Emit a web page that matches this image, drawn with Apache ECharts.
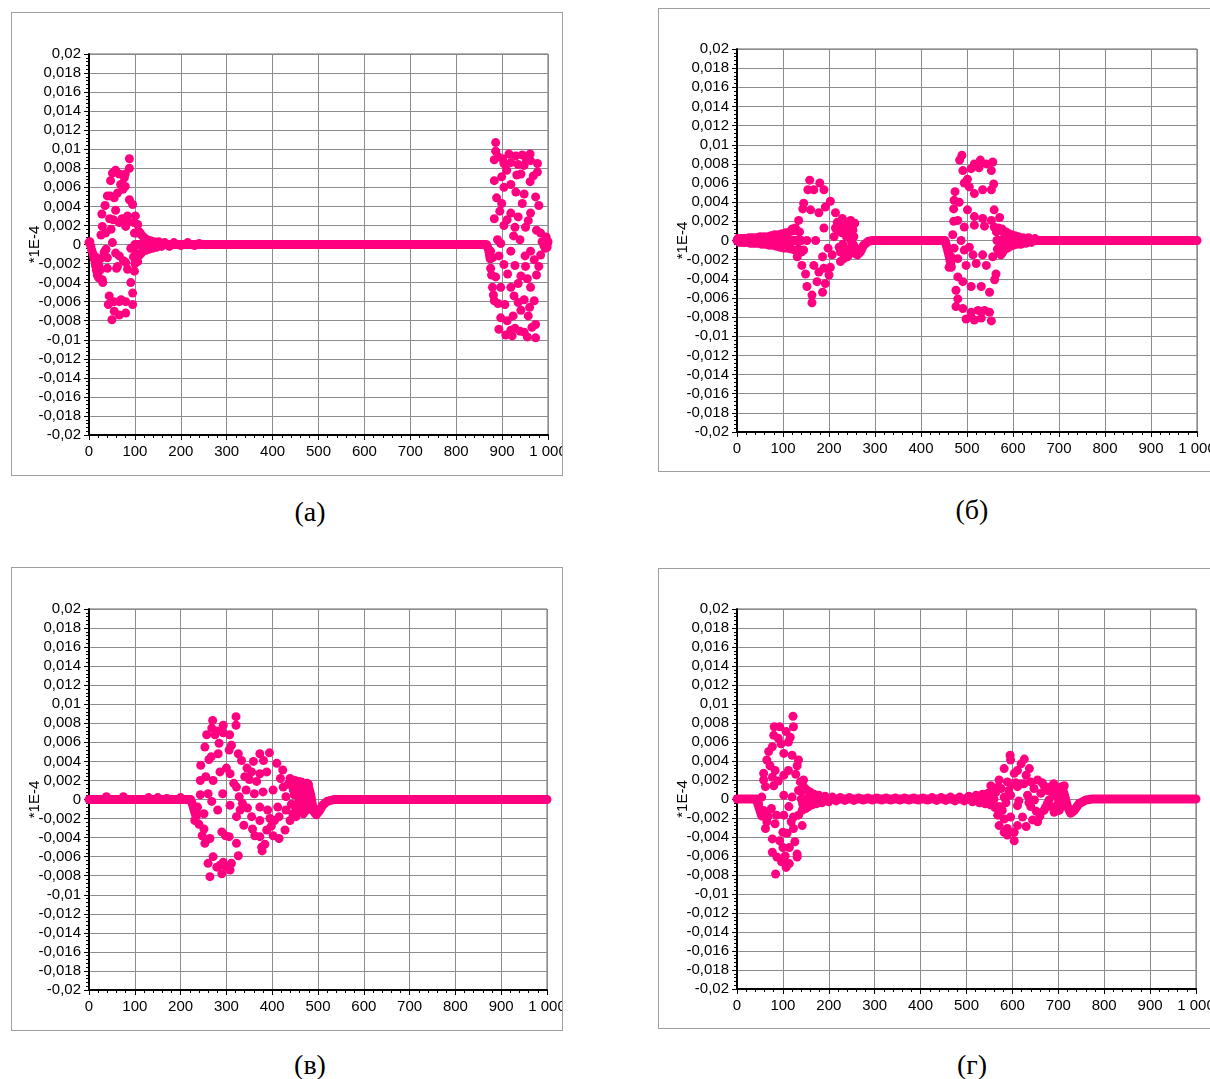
<!DOCTYPE html>
<html>
<head>
<meta charset="utf-8">
<script src="https://cdn.jsdelivr.net/npm/echarts@6/dist/echarts.min.js"></script>
<style>
  html, body { margin: 0; padding: 0; background: #fff; overflow: hidden; }
  .box { position: absolute; box-sizing: border-box; border: 1px solid #a0a0a0; background: #fff; }
  .cap { position: absolute; width: 200px; text-align: center; font-family: "Liberation Serif", serif; font-size: 28px; line-height: 32px; color: #000; }
</style>
</head>
<body>
<div id="chartA" class="box" style="left:11px;top:12px;width:552px;height:464px"></div>
<div id="chartB" class="box" style="left:658px;top:8px;width:553px;height:464px"></div>
<div id="chartC" class="box" style="left:11px;top:567px;width:552px;height:464px"></div>
<div id="chartD" class="box" style="left:658px;top:568px;width:553px;height:461px"></div>
<div class="cap" style="left:210px;top:496px">(а)</div>
<div class="cap" style="left:872px;top:494px">(б)</div>
<div class="cap" style="left:210px;top:1049px">(в)</div>
<div class="cap" style="left:872px;top:1049px">(г)</div>
<script>
var pink = '#ff0080'
var X_MIN = 0, X_MAX = 1000, X_STEP = 100
var Y_MIN = -0.02, Y_MAX = 0.02, Y_STEP = 0.002
var xTickLabels = ['0','100','200','300','400','500','600','700','800','900','1 000']
var yTickLabels = ['-0,02','-0,018','-0,016','-0,014','-0,012','-0,01','-0,008','-0,006','-0,004','-0,002','0',
                   '0,002','0,004','0,006','0,008','0,01','0,012','0,014','0,016','0,018','0,02']
var yName = '*1E-4'

// (а) flat band pieces and scattered points
var baseA = [
  [[100,0],[866,0],[871,-0.0006],[874,-0.0015]]
]
var ptsA = [
  [2,0.0003],[4,-0.0002],[6,-0.0006],[9,-0.001],[12,-0.0016],[14,-0.0022],[16,-0.0027],[18,-0.0032],
  [20,-0.0029],[22,-0.0023],[18,-0.0014],[25,-0.0015],[29,-0.0037],[30,-0.004],[26,0.001],[29,0.0019],
  [28,0.0032],[35,0.0041],[36,0.0012],[40,0.0051],[40,-0.0014],[40,-0.0025],[42,-0.0063],[44,-0.0054],
  [45,0.0027],[47,0.0067],[50,-0.0079],[51,0.0075],[51,0.0002],[55,0.0049],[55,-0.006],[55,-0.007],
  [58,0.0078],[58,0.0036],[58,-0.0009],[62,-0.0023],[66,0.0074],[66,0.0023],[66,-0.0012],[66,-0.006],
  [66,-0.0074],[69,0.0063],[74,0.0058],[79,0.0074],[79,0.0061],[80,0.0019],[80,-0.0019],[80,-0.006],
  [80,-0.0072],[84,0.003],[84,-0.0026],[88,0.009],[88,0.008],[88,0.0047],[91,-0.0004],[91,-0.004],
  [95,0.0042],[95,-0.0051],[95,-0.0063],[99,0.0012],[99,-0.0028],[101,0.003],[102,-0.0009],[106,0.0021],
  [33,-0.0008],[48,0.0016],[60,-0.0025],[72,0.0027],[75,-0.0017],[70,-0.0058],[62,0.0054],
  [0,0.0002],[10,-0.0013],[15,-0.0019],[21,-0.0035],[24,-0.0027],[37,-0.0005],[46,0.0051],[53,0.0026],
  [77,0.007],[85,0.0024],[98,0.0023],[97,-0.0013],[100,-0.002],
  [103,0.0012],[104,-0.0013],[106,-0.0018],[108,0.0014],[110,-0.0011],[112,0.0012],[114,-0.0009],
  [116,0.0009],[118,-0.0007],[121,0.0007],[124,-0.0006],[127,0.0005],[130,-0.0005],[134,0.0004],
  [138,-0.0004],[142,0.0003],[147,-0.0003],[152,0.0003],[158,-0.0002],[165,0.0002],[175,-0.0002],
  [185,0.0002],[200,-0.0001],[215,0.0002],[230,-0.0001],[240,0.0001],
  [886,0.0107],[886,0.0098],[883,0.0089],[901,0.009],[915,0.0095],[930,0.0093],[944,0.0094],[961,0.0095],
  [904,0.0085],[919,0.0086],[935,0.0084],[948,0.0083],[977,0.0085],[977,0.0076],[962,0.0088],[941,0.0074],
  [932,0.0073],[883,0.0067],[899,0.0071],[904,0.006],[919,0.0063],[961,0.0066],[930,0.0055],[948,0.0053],
  [888,0.0049],[899,0.0043],[944,0.0043],[973,0.005],[980,0.0041],[962,0.0033],[919,0.0033],[911,0.0026],
  [883,0.0027],[904,0.002],[928,0.0018],[951,0.0018],[975,0.0015],[984,0.0012],[939,0.0005],[890,0.0005],
  [897,0.0001],[987,0.0003],[991,-0.0001],[919,-0.0007],[962,-0.0007],[875,-0.0007],[879,-0.0014],
  [984,-0.0011],[904,-0.0021],[928,-0.0022],[951,-0.0023],[980,-0.0023],[875,-0.0025],[886,-0.0034],
  [941,-0.0033],[879,-0.0045],[897,-0.0045],[919,-0.0045],[962,-0.0045],[883,-0.0059],[891,-0.0062],
  [926,-0.0054],[948,-0.0058],[970,-0.0059],[897,-0.0077],[911,-0.008],[941,-0.0069],[924,-0.0075],
  [957,-0.0075],[973,-0.0084],[893,-0.0089],[908,-0.0095],[922,-0.0096],[939,-0.0091],[955,-0.0097],
  [973,-0.0098],[919,-0.009],[877,-0.0032],[881,-0.0053],[995,0.0005],[998,-0.0003],[993,0.0002],[1000,0.0003],
  [996,0.0008],[999,0.0001],[994,-0.0004],
  [892,0.0092],[910,0.0078],[953,0.0089],[968,0.0072],[895,0.0035],[935,0.0029],[957,0.0025],[925,0.0009],
  [950,-0.0012],[970,-0.0016],[893,-0.0012],[912,-0.0031],[935,-0.0041],[955,-0.0036],[975,-0.0032],
  [906,-0.0063],[935,-0.0061],[960,-0.0066],[928,-0.0088],[948,-0.0092],[965,-0.0087]
]

// (б)
var baseB = [
  [[0,0],[140,0]],
  [[248,0],[252,-0.0004],[256,-0.0009],[262,-0.0015],[268,-0.0012],[275,-0.0005],[285,-0.0001],[295,0],
   [452,0],[457,-0.0008],[462,-0.0018],[466,-0.0028]],
  [[565,0],[1000,0]]
]
var ptsB = [
  [2,0.0002],[5,-0.0002],[8,0.0002],[11,-0.0002],[14,0.0002],[17,-0.0002],[20,0.0002],[23,-0.0002],
  [26,0.0003],[29,-0.0003],[32,0.0003],[35,-0.0003],[38,0.0003],[41,-0.0003],[44,0.0003],[47,-0.0003],
  [50,0.0004],[54,-0.0004],[58,0.0004],[62,-0.0004],
  [66,0.0004],[70,-0.0005],[74,0.0005],[78,-0.0005],[82,0.0006],[86,-0.0006],[90,0.0006],[94,-0.0007],
  [98,0.0007],[102,-0.0008],[106,0.0008],[110,-0.0008],[114,0.0009],[118,-0.0009],[122,0.001],[126,-0.001],
  [130,0.001],[134,-0.0009],
  [158,0.0063],[180,0.006],[154,0.0053],[167,0.0053],[189,0.0053],[145,0.0039],[203,0.0041],[143,0.0033],
  [160,0.0032],[178,0.0029],[192,0.0035],[214,0.0029],[134,0.0021],[229,0.0023],[247,0.0021],[127,0.0013],
  [189,0.0013],[214,0.0013],[236,0.0015],[247,0.0011],[105,0.0006],[171,0],[152,0],[211,0.0004],[240,0.0004],
  [145,-0.001],[131,-0.0017],[186,-0.0017],[207,-0.0015],[225,-0.0012],[243,-0.0015],[258,-0.0014],
  [141,-0.0026],[167,-0.0026],[189,-0.0029],[203,-0.0028],[225,-0.0022],[149,-0.0035],[178,-0.0033],
  [200,-0.0036],[174,-0.0043],[192,-0.0045],[152,-0.0048],[186,-0.0054],[163,-0.0057],[163,-0.0065],
  [222,-0.0007],[250,-0.0003],[238,0.0017],[242,-0.0012],[246,0.0015],[252,0.0011],[255,-0.0006],
  [232,-0.0019],[218,0.0019],[198,-0.0008],[136,0.0009],[120,0.0012],[140,-0.0012],
  [228,0.0008],[230,-0.0004],[233,0.0012],[235,-0.0009],[238,0.0004],[240,-0.0017],[244,0.0008],
  [246,-0.0008],[249,0.0016],[251,-0.0011],[254,0.0004],[256,0.0018],[220,0.001],[226,0.0016],
  [489,0.0089],[484,0.0084],[516,0.008],[529,0.0084],[542,0.008],[556,0.0082],[491,0.0073],[509,0.0075],
  [526,0.0076],[553,0.0073],[501,0.0064],[505,0.0056],[494,0.006],[474,0.0051],[516,0.0049],[534,0.0053],
  [553,0.0053],[558,0.0059],[472,0.0042],[483,0.004],[471,0.0033],[501,0.0032],[559,0.0032],[516,0.0025],
  [534,0.0023],[553,0.0021],[571,0.0024],[471,0.002],[480,0.0021],[494,0.0014],[516,0.0016],[538,0.0015],
  [559,0.0014],[469,0.0006],[487,0],[494,-0.001],[505,-0.0007],[472,-0.0008],[465,-0.0017],[513,-0.0015],
  [534,-0.0015],[556,-0.0017],[574,-0.0015],[480,-0.0019],[461,-0.0028],[498,-0.0026],[520,-0.0024],
  [542,-0.0026],[563,-0.0035],[560,-0.0041],[480,-0.0038],[491,-0.0043],[509,-0.0048],[531,-0.0048],
  [549,-0.0054],[476,-0.0052],[480,-0.0061],[476,-0.0069],[491,-0.0071],[509,-0.0075],[524,-0.0073],
  [538,-0.0073],[549,-0.0075],[498,-0.0082],[516,-0.0083],[553,-0.0084],[509,-0.008],[531,-0.0081],
  [564,0.0009],[566,-0.0009],[568,0.0013],[570,-0.0012],[572,0.0011],[574,-0.0008],[576,0.0012],
  [578,-0.0012],[580,0.0008],[582,-0.0009],[585,0.0009],[588,-0.0008],[591,0.0007],[594,-0.0006],
  [597,0.0006],[600,-0.0005],[604,0.0005],[608,-0.0004],[612,0.0004],[617,-0.0004],[622,0.0003],
  [628,-0.0003],[634,0.0003],[640,-0.0002],[648,0.0002]
]

// (в)
var baseC = [
  [[0,0],[222,0],[226,-0.0005],[230,-0.0012],[234,-0.0018]],
  [[470,0],[477,0.0017],[484,0.0005],[490,-0.0012],[496,-0.0016],[503,-0.0012],[510,-0.0006],[520,-0.0002],
   [535,0],[1000,0]]
]
var ptsC = [
  [38,0.0003],[40,0.0001],[75,0.0003],[130,0.0002],[150,0.0002],[170,0.0001],[200,0.0002],
  [270,0.0083],[321,0.0087],[321,0.0078],[293,0.0078],[268,0.0075],[280,0.0072],[257,0.0068],[293,0.007],
  [307,0.0068],[253,0.0055],[284,0.0059],[311,0.0057],[306,0.0052],[282,0.0048],[267,0.0045],[326,0.0048],
  [244,0.0036],[333,0.0041],[373,0.0048],[394,0.0049],[359,0.004],[381,0.0041],[410,0.0038],[286,0.0029],
  [271,0.002],[243,0.002],[308,0.0027],[340,0.0024],[355,0.0029],[373,0.0027],[388,0.0029],[423,0.0031],
  [439,0.0022],[292,0.0006],[243,0.0005],[260,0.0006],[322,0.0013],[343,0.001],[361,0.0006],[380,0.0008],
  [402,0.001],[424,0.0013],[446,0.001],[453,0.0015],[464,0.0013],[475,0.0017],[237,-0.0008],[268,-0.0002],
  [281,-0.0011],[308,-0.0006],[330,-0.0011],[346,-0.0009],[373,-0.0008],[390,-0.0011],[412,-0.0008],
  [430,-0.0011],[456,-0.0008],[466,-0.0011],[477,-0.0004],[231,-0.0022],[251,-0.0015],[322,-0.0018],
  [355,-0.0018],[373,-0.0022],[395,-0.002],[415,-0.0018],[439,-0.0022],[251,-0.0031],[264,-0.0041],
  [253,-0.0046],[290,-0.0034],[306,-0.0039],[322,-0.0046],[357,-0.0031],[373,-0.0039],[377,-0.005],
  [362,-0.0038],[388,-0.0032],[402,-0.0038],[415,-0.0041],[271,-0.006],[260,-0.0067],[293,-0.0066],
  [311,-0.0067],[279,-0.0071],[264,-0.0081],[290,-0.0078],[308,-0.0074],[326,-0.0059],[300,-0.0071],
  [378,-0.0054],[300,0.0033],[335,-0.0004],[350,0.0021],[398,-0.0028],[430,0.0003],
  [236,-0.0015],[240,-0.0026],[247,-0.0038],[255,0.0024],[262,0.0042],[275,0.0068],[286,-0.0069],
  [298,-0.0038],[316,0.0017],[328,0.0003],[338,-0.0027],[345,0.0033],[366,0.0019],[384,-0.0047],
  [405,-0.0022],[418,0.0022],[428,-0.0032],[435,0.0016],
  [440,0.0018],[445,-0.0015],[450,0.002],[452,-0.0018],[455,0.0012],[458,-0.0012],[460,0.0015],
  [463,-0.0008],[465,0.0018],[468,-0.0015],[470,0.001],[472,-0.0005],[478,0.0012],[480,-0.001],
  [476,0.0005],[448,0.0005],[457,-0.0003],[442,-0.0005],[447,0.0012],[451,-0.0008],[454,0.0006],
  [459,0.0019],[462,0.0004],[466,-0.0004],[469,0.0016],[473,-0.0012],[479,0.0016]
]

// (г)
var baseD = [
  [[0,0],[42,0],[46,-0.0006],[50,-0.0012],[54,-0.0018]],
  [[140,0],[560,0]],
  [[700,0],[707,0.0013],[713,0.0005],[720,-0.0008],[727,-0.0015],[735,-0.0012],[745,-0.0005],[760,-0.0001],
   [775,0],[1000,0]]
]
var ptsD = [
  [122,0.0087],[123,0.0076],[81,0.0076],[93,0.0076],[107,0.0071],[80,0.0067],[90,0.0064],[112,0.006],
  [77,0.0055],[69,0.005],[102,0.0048],[120,0.0046],[134,0.0041],[131,0.0035],[65,0.0041],[83,0.003],
  [112,0.003],[58,0.0027],[77,0.0023],[58,0.002],[102,0.0025],[62,0.0013],[80,0.0014],[138,0.0018],
  [145,0.002],[120,0.0002],[102,0.0004],[54,0.0002],[134,0.0009],[143,-0.0005],[47,-0.0005],[58,-0.0012],
  [75,-0.001],[113,-0.0008],[86,-0.0017],[102,-0.0017],[134,-0.0017],[123,-0.0019],[65,-0.0024],
  [83,-0.0026],[142,-0.0028],[62,-0.0031],[100,-0.0035],[109,-0.0036],[123,-0.0031],[77,-0.0042],
  [126,-0.0045],[100,-0.0051],[114,-0.0051],[77,-0.0056],[87,-0.0061],[131,-0.0058],[131,-0.0061],
  [100,-0.0063],[114,-0.0068],[107,-0.0072],[97,-0.0066],[84,-0.0079],[105,-0.006],
  [96,0.0058],[116,0.0065],[72,0.0035],[90,0.0019],[128,0.0026],[68,-0.0018],[93,-0.0044],[118,-0.0024],
  [140,0.0008],[142,-0.0012],[145,0.0013],[146,-0.0008],[148,0.0011],[150,-0.001],[153,0.0009],
  [156,-0.0008],[160,0.0007],[164,-0.0006],[168,0.0005],[173,-0.0005],[178,0.0004],[185,-0.0004],
  [192,0.0003],[200,-0.0003],[208,0.0002],[216,-0.0002],[225,0.00015],[235,-0.00015],[245,0.00015],
  [255,-0.00015],[265,0.0001],[275,-0.0001],[285,0.0001],[295,-0.0001],[305,0.0001],[315,-0.0001],
  [325,0.0001],[335,-0.0001],[345,0.0001],[355,-0.0001],[365,0.0001],[375,-0.0001],[385,0.0001],
  [395,-0.0001],[405,0.0001],[415,-0.0001],[425,0.00015],[435,-0.00015],[445,0.00015],[455,-0.00015],
  [465,0.0002],[475,-0.0002],[485,0.0002],[495,-0.0002],[505,0.0003],[513,-0.0003],[521,0.0004],
  [528,-0.0004],[535,0.0005],[541,-0.0005],[547,0.0006],[552,-0.0006],[557,0.0007],
  [595,0.0046],[596,0.0041],[626,0.0042],[619,0.0037],[582,0.0032],[611,0.003],[637,0.0032],[604,0.0027],
  [630,0.0025],[571,0.002],[589,0.0018],[611,0.0013],[640,0.0018],[655,0.002],[669,0.0014],[684,0.0013],
  [706,0.0011],[713,0.0014],[553,0.0014],[564,0.0007],[582,0.0002],[596,0.0004],[633,0.0004],[648,-0.0001],
  [662,0.0006],[680,-0.0001],[695,0.0004],[553,-0.0005],[571,-0.0008],[611,-0.0007],[640,-0.0008],
  [669,-0.0012],[691,-0.0014],[706,-0.0008],[568,-0.0017],[582,-0.0021],[596,-0.0019],[622,-0.0019],
  [644,-0.0022],[655,-0.0024],[571,-0.0028],[589,-0.0031],[611,-0.0028],[630,-0.0029],[589,-0.0038],
  [604,-0.0035],[604,-0.0044],[582,-0.0035],[617,0.0016],[600,0.0016],[660,-0.0018],[676,0.0009],
  [687,0.0006],[698,-0.0006],[676,-0.0005],[560,0.0009],[578,-0.0012],
  [562,-0.0009],[567,0.0012],[575,0.0011],[586,-0.0004],[592,0.0009],[607,0.0017],[614,-0.0002],
  [625,0.0016],[636,-0.0004],[647,0.0011],[652,-0.0013],[665,0.0017],[672,-0.0009],[683,-0.0008],
  [690,0.0016],[697,0.001],[702,-0.0012],[710,0.0003]
]

function xLabel(v) {
  return xTickLabels[Math.round((v - X_MIN) / X_STEP)]
}
function yLabel(v) {
  return yTickLabels[Math.round((v - Y_MIN) / Y_STEP)]
}

function axisCommon() {
  return {
    type: 'value',
    axisLine: { show: true, onZero: false, lineStyle: { color: '#000', width: 2 } },
    axisTick: { show: true, length: 5, lineStyle: { color: '#000', width: 1 } },
    minorTick: { show: true, splitNumber: 5, length: 3, lineStyle: { color: '#000', width: 1 } },
    splitLine: { show: true, lineStyle: { color: '#8c8c8c', width: 1 } },
    minorSplitLine: { show: false }
  }
}

function makeOption(base, pts, grid) {
  var xAxis = axisCommon()
  xAxis.min = X_MIN
  xAxis.max = X_MAX
  xAxis.interval = X_STEP
  xAxis.axisLabel = { color: '#000', fontSize: 15, fontFamily: 'Liberation Sans', margin: 9, formatter: xLabel }

  var yAxis = axisCommon()
  yAxis.min = Y_MIN
  yAxis.max = Y_MAX
  yAxis.interval = Y_STEP
  yAxis.name = yName
  yAxis.nameLocation = 'middle'
  yAxis.nameGap = 47
  yAxis.nameMoveOverlap = false
  yAxis.nameTextStyle = { color: '#000', fontSize: 15, fontFamily: 'Liberation Sans' }
  yAxis.axisLabel = { color: '#000', fontSize: 15, fontFamily: 'Liberation Sans', margin: 8, formatter: yLabel }

  var series = []
  for (var s of base) {
    series.push({
      type: 'line',
      data: s,
      symbol: 'none',
      silent: true,
      lineStyle: { color: pink, width: 9, cap: 'round', join: 'round' }
    })
  }
  series.push({
    type: 'scatter',
    data: pts,
    symbol: 'circle',
    symbolSize: 9,
    itemStyle: { color: pink, opacity: 1 }
  })

  return {
    animation: false,
    grid: {
      left: grid[0], top: grid[1], right: grid[2], bottom: grid[3],
      outerBoundsMode: 'none', containLabel: false,
      show: true, borderColor: '#666', borderWidth: 1
    },
    xAxis: xAxis,
    yAxis: yAxis,
    series: series
  }
}

function init() {
  var chartA = echarts.init(document.getElementById('chartA'))
  chartA.setOption(makeOption(baseA, ptsA, [77, 41, 14, 40]))
  var chartB = echarts.init(document.getElementById('chartB'))
  chartB.setOption(makeOption(baseB, ptsB, [78, 40, 13, 39]))
  var chartC = echarts.init(document.getElementById('chartC'))
  chartC.setOption(makeOption(baseC, ptsC, [77, 41, 15, 40]))
  var chartD = echarts.init(document.getElementById('chartD'))
  chartD.setOption(makeOption(baseD, ptsD, [78, 40, 14, 39]))
}
init()
</script>
</body>
</html>
